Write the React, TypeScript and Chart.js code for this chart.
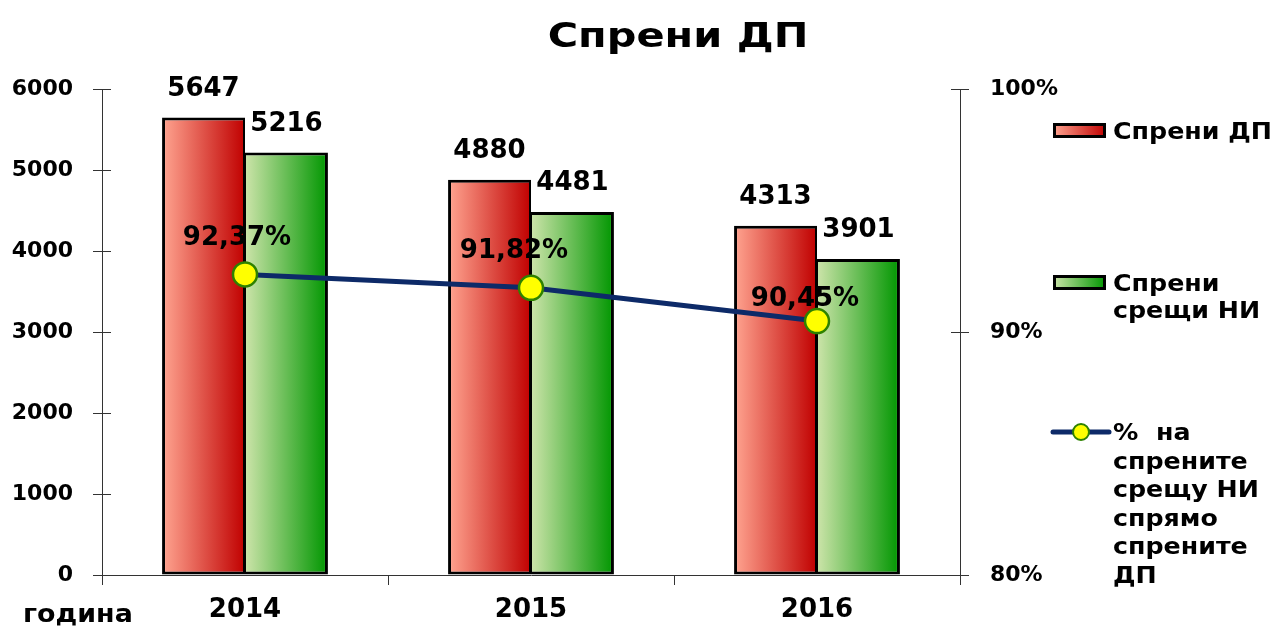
import React, { useEffect, useRef } from 'react';
import { Chart, registerables } from 'chart.js';

Chart.register(...registerables);

// ---- data ----
const years = ['2014', '2015', '2016'];
const stoppedDP = [5647, 4880, 4313];
const stoppedNI = [5216, 4481, 3901];
const pctNI = [92.37, 91.82, 90.45];
const seriesNames = ['Спрени ДП', 'Спрени срещи НИ', '% на спрените срещу НИ спрямо спрените ДП'];
const legendLines = [
  ['Спрени ДП'],
  ['Спрени', 'срещи НИ'],
  ['%  на', 'спрените', 'срещу НИ', 'спрямо', 'спрените', 'ДП'],
];
const chartTitle = 'Спрени ДП';
const xAxisName = 'година';

// ---- style ----
const FONT = '"DejaVu Sans", "Liberation Sans", sans-serif';
const CAT_PCT = 0.58;
const RED_LIGHT = 'rgb(255,165,145)';
const RED_DARK = 'rgb(192,0,0)';
const GREEN_LIGHT = 'rgb(205,228,170)';
const GREEN_DARK = 'rgb(0,150,0)';
const LINE_COLOR = '#0D2A68';
const POINT_FILL = '#FFFF00';
const POINT_BORDER = '#2E8200';
const AXIS_COLOR = '#333333';
const pctLabelOffset = [
  [-8, -39],
  [-17, -40],
  [-12, -25],
];

// dataset indices
const LINE_DS = 0;
const DP_DS = 1;
const NI_DS = 2;

function drawText(
  ctx: CanvasRenderingContext2D,
  s: string,
  x: number,
  y: number,
  size: number,
  align: CanvasTextAlign = 'center',
  sx = 1,
  baseline: CanvasTextBaseline = 'alphabetic'
) {
  ctx.save();
  ctx.font = `bold ${size}px ${FONT}`;
  ctx.textAlign = align;
  ctx.textBaseline = baseline;
  ctx.fillStyle = '#000';
  ctx.translate(x, y);
  ctx.scale(sx, 1);
  ctx.fillText(s, 0, 0);
  ctx.restore();
}

function barGradient(light: string, dark: string, side: number) {
  return (c: any) => {
    const chart = c.chart;
    const xs = chart.scales && chart.scales.x;
    if (!xs || !chart.chartArea || c.dataIndex === undefined) return dark;
    const center = xs.getPixelForValue(c.dataIndex);
    const gw = (xs.width / years.length) * CAT_PCT;
    const x0 = side === 0 ? center - gw / 2 : center;
    const g = chart.ctx.createLinearGradient(x0, 0, x0 + gw / 2, 0);
    g.addColorStop(0, light);
    g.addColorStop(1, dark);
    return g;
  };
}

const decorPlugin = {
  id: 'decor',
  afterDatasetsDraw(chart: any) {
    const ctx = chart.ctx as CanvasRenderingContext2D;
    // bar value labels
    [DP_DS, NI_DS].forEach((di) => {
      const meta = chart.getDatasetMeta(di);
      const vals = di === DP_DS ? stoppedDP : stoppedNI;
      meta.data.forEach((bar: any, i: number) => {
        drawText(ctx, String(vals[i]), bar.x, bar.y - 22, 26, 'center', 1);
      });
    });
    // percentage labels
    const lm = chart.getDatasetMeta(LINE_DS);
    lm.data.forEach((p: any, i: number) => {
      const s = pctNI[i].toFixed(2).replace('.', ',') + '%';
      drawText(ctx, s, p.x + pctLabelOffset[i][0], p.y + pctLabelOffset[i][1] + 10, 26, 'center', 1);
    });
  },
  afterDraw(chart: any) {
    const ctx = chart.ctx as CanvasRenderingContext2D;
    const area = chart.chartArea;
    // inner halves of the axis tick marks
    ctx.save();
    ctx.strokeStyle = AXIS_COLOR;
    ctx.lineWidth = 1;
    const ys = chart.scales.y;
    ys.ticks.forEach((t: any) => {
      const py = Math.round(ys.getPixelForValue(t.value)) + 0.5;
      ctx.beginPath();
      ctx.moveTo(area.left, py);
      ctx.lineTo(area.left + 9, py);
      ctx.stroke();
    });
    const y1 = chart.scales.y1;
    y1.ticks.forEach((t: any) => {
      const py = Math.round(y1.getPixelForValue(t.value)) + 0.5;
      ctx.beginPath();
      ctx.moveTo(area.right - 9, py);
      ctx.lineTo(area.right, py);
      ctx.stroke();
    });
    ctx.restore();

    // title
    drawText(ctx, chartTitle, 678, 47, 34, 'center', 1.22);
    // x axis name
    drawText(ctx, xAxisName, 23, 622, 24, 'left', 1.12);

    // legend
    const boxL = 1053;
    const boxW = 53;
    const textX = 1113;
    const centers = [130.5, 282.5, 432];
    const lh = [28, 27, 28.5];
    [0, 1, 2].forEach((k) => {
      const cy = centers[k];
      ctx.save();
      if (k < 2) {
        const g = ctx.createLinearGradient(boxL, 0, boxL + boxW, 0);
        g.addColorStop(0, k === 0 ? RED_LIGHT : GREEN_LIGHT);
        g.addColorStop(1, k === 0 ? RED_DARK : GREEN_DARK);
        ctx.fillStyle = g;
        ctx.strokeStyle = '#000';
        ctx.lineWidth = 3;
        ctx.beginPath();
        ctx.rect(boxL + 1.5, cy - 6, boxW - 3, 12);
        ctx.fill();
        ctx.stroke();
      } else {
        ctx.strokeStyle = LINE_COLOR;
        ctx.lineWidth = 5;
        ctx.lineCap = 'round';
        ctx.beginPath();
        ctx.moveTo(boxL, cy);
        ctx.lineTo(boxL + 56, cy);
        ctx.stroke();
        ctx.fillStyle = POINT_FILL;
        ctx.strokeStyle = POINT_BORDER;
        ctx.lineWidth = 2;
        ctx.beginPath();
        ctx.arc(boxL + 28, cy, 8, 0, Math.PI * 2);
        ctx.fill();
        ctx.stroke();
      }
      ctx.restore();
      legendLines[k].forEach((line, j) => {
        drawText(ctx, line, textX, cy + 8 + j * lh[k], 23, 'left', 1.1);
      });
    });
  },
};

export default function App() {
  const ref = useRef<HTMLCanvasElement | null>(null);
  useEffect(() => {
    if (!ref.current) return;
    const tickFont = { family: FONT, size: 22, weight: 'bold' as const };
    const chart = new Chart(ref.current, {
      type: 'bar',
      data: {
        labels: years,
        datasets: [
          {
            type: 'line',
            label: seriesNames[2],
            data: pctNI,
            yAxisID: 'y1',
            borderColor: LINE_COLOR,
            borderWidth: 5,
            pointRadius: 12,
            pointHoverRadius: 12,
            pointBackgroundColor: POINT_FILL,
            pointBorderColor: POINT_BORDER,
            pointBorderWidth: 2.5,
            tension: 0,
            order: 0,
          } as any,
          {
            type: 'bar',
            label: seriesNames[0],
            data: stoppedDP,
            yAxisID: 'y',
            backgroundColor: barGradient(RED_LIGHT, RED_DARK, 0),
            borderColor: '#000',
            borderWidth: { left: 3, top: 3, right: 2, bottom: 3 },
            borderSkipped: false,
            categoryPercentage: CAT_PCT,
            barPercentage: 1,
            order: 1,
          } as any,
          {
            type: 'bar',
            label: seriesNames[1],
            data: stoppedNI,
            yAxisID: 'y',
            backgroundColor: barGradient(GREEN_LIGHT, GREEN_DARK, 1),
            borderColor: '#000',
            borderWidth: { left: 1, top: 3, right: 3, bottom: 3 },
            borderSkipped: false,
            categoryPercentage: CAT_PCT,
            barPercentage: 1,
            order: 1,
          } as any,
        ],
      },
      options: {
        animation: false,
        responsive: true,
        maintainAspectRatio: false,
        layout: { padding: { top: 89, left: 0, right: 0, bottom: 0 } },
        plugins: {
          legend: { display: false },
          title: { display: false },
          tooltip: { enabled: false },
        },
        scales: {
          x: {
            offset: true,
            grid: {
              display: true,
              offset: true,
              drawOnChartArea: false,
              drawTicks: true,
              tickLength: 10,
              color: AXIS_COLOR,
            },
            border: { display: true, color: AXIS_COLOR, width: 1 },
            ticks: { font: { family: FONT, size: 26, weight: 'bold' }, color: '#000', padding: 10 },
            afterFit: (s: any) => {
              s.height = 55;
            },
          },
          y: {
            position: 'left',
            min: 0,
            max: 6000,
            ticks: {
              stepSize: 1000,
              font: tickFont,
              color: '#000',
              padding: 20,
              callback: (v: any) => String(Math.round(Number(v))),
            },
            grid: { drawOnChartArea: false, drawTicks: true, tickLength: 9, color: AXIS_COLOR },
            border: { display: true, color: AXIS_COLOR, width: 1 },
            afterFit: (s: any) => {
              s.width = 102;
            },
          },
          y1: {
            position: 'right',
            min: 80,
            max: 100,
            ticks: {
              stepSize: 10,
              font: tickFont,
              color: '#000',
              padding: 21,
              callback: (v: any) => Math.round(Number(v)) + '%',
            },
            grid: { drawOnChartArea: false, drawTicks: true, tickLength: 9, color: AXIS_COLOR },
            border: { display: true, color: AXIS_COLOR, width: 1 },
            afterFit: (s: any) => {
              s.width = 316;
            },
          },
        },
      },
      plugins: [decorPlugin],
    });
    return () => chart.destroy();
  }, []);

  return (
    <div style={{ position: 'fixed', left: 0, top: 0, width: 1276, height: 630, background: '#fff' }}>
      <canvas ref={ref} />
    </div>
  );
}
